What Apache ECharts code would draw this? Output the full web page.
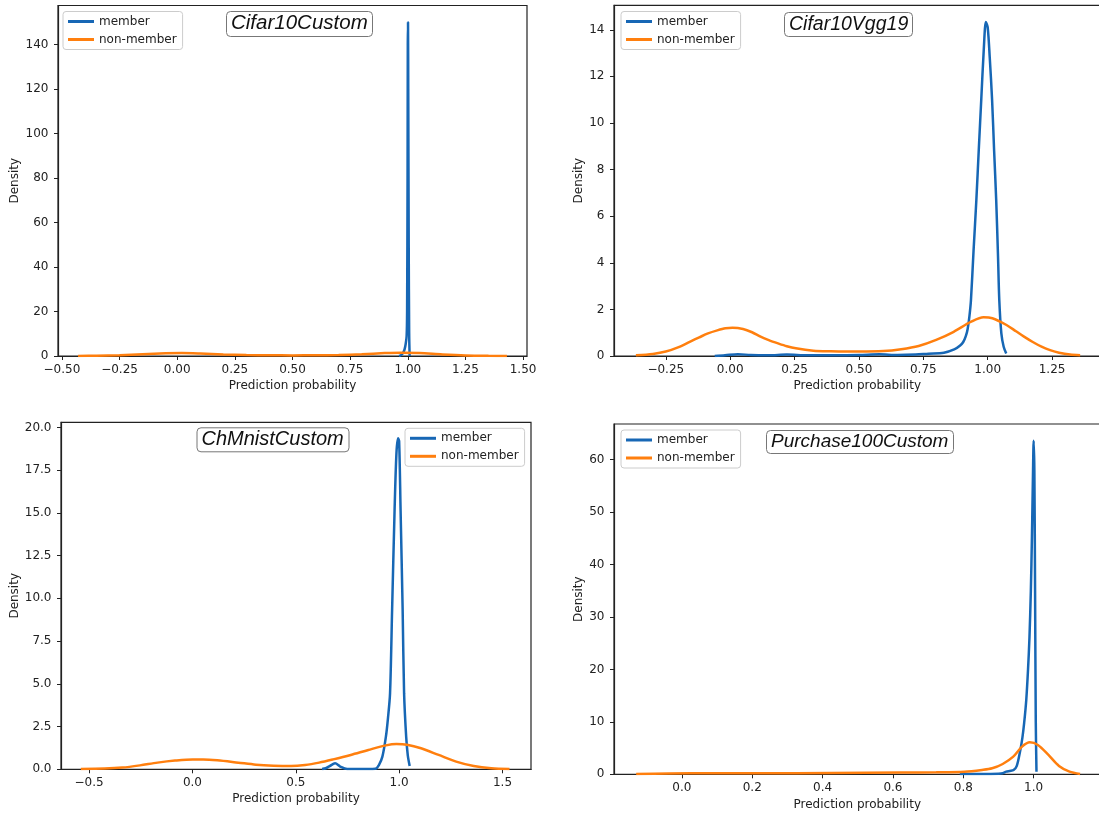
<!DOCTYPE html>
<html>
<head>
<meta charset="utf-8">
<script src="https://cdn.jsdelivr.net/npm/echarts@6/dist/echarts.min.js"></script>
<style>html,body{margin:0;padding:0;background:#fff}#c{width:1099px;height:816px}</style>
</head>
<body>
<div id="c"></div>
<script>
// ---- Panel titles & series names ----
const panelTitles = ['Cifar10Custom', 'Cifar10Vgg19', 'ChMnistCustom', 'Purchase100Custom'];
const seriesNames = ['member', 'non-member'];

// ---- Cifar10Custom ----
const c10cMemberX = [0.962, 0.972, 0.98, 0.986, 0.991, 0.995, 0.997, 0.999, 1.0, 1.001, 1.002, 1.004, 1.006, 1.008];
const c10cMemberY = [0, 0.5, 1.5, 3, 5.5, 9, 20, 80, 140, 150, 120, 50, 10, 0];
const c10cNonX = [-0.43, -0.35, -0.25, -0.15, -0.05, 0.02, 0.1, 0.2, 0.3, 0.4, 0.5, 0.6, 0.7, 0.8, 0.9, 0.97, 1.05, 1.15, 1.25, 1.35, 1.43];
const c10cNonY = [0.02, 0.1, 0.35, 0.8, 1.2, 1.3, 1.1, 0.7, 0.4, 0.3, 0.28, 0.3, 0.45, 0.8, 1.3, 1.5, 1.3, 0.7, 0.25, 0.06, 0.01];

// ---- Cifar10Vgg19 ----
const vggMemberX = [-0.06, -0.02, 0.03, 0.08, 0.15, 0.22, 0.3, 0.4, 0.5, 0.58, 0.65, 0.72, 0.77, 0.83, 0.87, 0.893, 0.905, 0.915, 0.922, 0.929, 0.935, 0.945, 0.956, 0.966, 0.975, 0.985, 0.993, 1.0, 1.008, 1.017, 1.025, 1.033, 1.04, 1.045, 1.053, 1.062, 1.072];
const vggMemberY = [0.0, 0.03, 0.08, 0.04, 0.03, 0.06, 0.03, 0.03, 0.04, 0.07, 0.04, 0.06, 0.1, 0.14, 0.28, 0.45, 0.6, 0.85, 1.15, 1.7, 2.4, 4.5, 6.7, 9.0, 11.0, 13.2, 14.33, 14.1, 12.8, 11.0, 8.8, 6.7, 4.3, 2.4, 0.97, 0.4, 0.11];
const vggNonX = [-0.366, -0.3, -0.25, -0.2, -0.155, -0.12, -0.086, -0.05, -0.018, 0.009, 0.05, 0.085, 0.118, 0.15, 0.186, 0.22, 0.255, 0.323, 0.391, 0.45, 0.5, 0.595, 0.664, 0.732, 0.8, 0.868, 0.936, 0.984, 1.018, 1.073, 1.11, 1.141, 1.175, 1.209, 1.245, 1.277, 1.32, 1.359];
const vggNonY = [0.03, 0.09, 0.19, 0.38, 0.62, 0.8, 0.97, 1.1, 1.19, 1.21, 1.16, 1.02, 0.83, 0.68, 0.54, 0.42, 0.33, 0.23, 0.2, 0.19, 0.19, 0.21, 0.29, 0.43, 0.69, 1.04, 1.47, 1.66, 1.62, 1.33, 1.06, 0.83, 0.6, 0.4, 0.24, 0.14, 0.06, 0.03];

// ---- ChMnistCustom ----
const chMemberX = [0.627, 0.645, 0.664, 0.69, 0.715, 0.749, 0.8, 0.85, 0.885, 0.902, 0.919, 0.936, 0.946, 0.956, 0.966, 0.978, 0.987, 0.995, 1.0, 1.007, 1.017, 1.024, 1.034, 1.042, 1.051];
const chMemberY = [0.02, 0.06, 0.19, 0.35, 0.16, 0.02, 0.02, 0.02, 0.03, 0.25, 0.74, 1.91, 3.0, 4.44, 9.32, 15.17, 18.5, 19.36, 19.2, 15.17, 9.32, 4.44, 1.91, 0.8, 0.2];
const chNonX = [-0.54, -0.424, -0.339, -0.254, -0.169, -0.084, 0.001, 0.052, 0.12, 0.222, 0.307, 0.392, 0.477, 0.545, 0.613, 0.681, 0.766, 0.851, 0.936, 0.987, 1.038, 1.106, 1.191, 1.276, 1.361, 1.446, 1.534];
const chNonY = [0.02, 0.04, 0.1, 0.23, 0.39, 0.51, 0.58, 0.58, 0.53, 0.39, 0.27, 0.21, 0.19, 0.25, 0.39, 0.58, 0.84, 1.13, 1.4, 1.48, 1.44, 1.23, 0.84, 0.45, 0.19, 0.06, 0.02];

// ---- Purchase100Custom ----
const puMemberX = [0.79, 0.85, 0.9, 0.912, 0.922, 0.932, 0.943, 0.952, 0.962, 0.968, 0.973, 0.979, 0.984, 0.988, 0.992, 0.995, 0.998, 1.0, 1.002, 1.004, 1.006, 1.008];
const puMemberY = [0.05, 0.06, 0.12, 0.2, 0.5, 0.64, 0.82, 1.6, 4.6, 7, 9.8, 14.2, 20, 26, 35, 45, 57, 63.6, 58, 35, 10, 0.5];
const puNonX = [-0.13, 0.025, 0.224, 0.424, 0.623, 0.723, 0.803, 0.853, 0.882, 0.912, 0.942, 0.967, 0.989, 1.012, 1.042, 1.072, 1.102, 1.132];
const puNonY = [0.06, 0.19, 0.19, 0.25, 0.32, 0.38, 0.5, 0.83, 1.14, 1.97, 3.37, 5.28, 6.1, 5.6, 3.7, 1.6, 0.5, 0.06];

// ---- Tick labels ----
const xTicks1 = [-0.5, -0.25, 0, 0.25, 0.5, 0.75, 1.0, 1.25, 1.5];
const yTicks1 = [0, 20, 40, 60, 80, 100, 120, 140];
const xTicks2 = [-0.25, 0, 0.25, 0.5, 0.75, 1.0, 1.25];
const yTicks2 = [0, 2, 4, 6, 8, 10, 12, 14];
const xTicks3 = [-0.5, 0, 0.5, 1.0, 1.5];
const yTicks3 = [0, 2.5, 5, 7.5, 10, 12.5, 15, 17.5, 20];
const xTicks4 = [0, 0.2, 0.4, 0.6, 0.8, 1.0];
const yTicks4 = [0, 10, 20, 30, 40, 50, 60];

const BLUE = '#1767b5', ORANGE = '#ff7f0e', INK = '#222';
const zip = (xs, ys) => xs.map((x, i) => [x, ys[i]]);
const fmt = d => v => (v < 0 ? '\u2212' : '') + Math.abs(v).toFixed(d);

const panels = [
  { title: panelTitles[0], grid: {left: 58, top: 5.5, width: 469, height: 350.5},
    x: {min: -0.517, max: 1.517, ticks: xTicks1, dec: 2, gap: 24}, y: {min: 0, max: 157.5, ticks: yTicks1, dec: 0, gap: 37},
    m: zip(c10cMemberX, c10cMemberY), n: zip(c10cNonX, c10cNonY),
    titleBox: {left: 226, top: 11, fs: 20.5}, legend: {left: 63, top: 11.5} },
  { title: panelTitles[1], grid: {left: 614, top: 5.3, width: 486.5, height: 350.7},
    x: {min: -0.451, max: 1.438, ticks: xTicks2, dec: 2, gap: 24}, y: {min: 0, max: 15.05, ticks: yTicks2, dec: 0, gap: 29},
    m: zip(vggMemberX, vggMemberY), n: zip(vggNonX, vggNonY),
    titleBox: {left: 784, top: 12, fs: 19.5}, legend: {left: 621, top: 11.5} },
  { title: panelTitles[2], grid: {left: 61, top: 422.3, width: 470, height: 347},
    x: {min: -0.636, max: 1.638, ticks: xTicks3, dec: 1, gap: 23.5}, y: {min: 0, max: 20.3, ticks: yTicks3, dec: 1, gap: 40},
    m: zip(chMemberX, chMemberY), n: zip(chNonX, chNonY),
    titleBox: {left: 196.5, top: 427.3, fs: 20}, legend: {left: 405, top: 428.3} },
  { title: panelTitles[3], grid: {left: 614, top: 424, width: 486.5, height: 350.3},
    x: {min: -0.193, max: 1.19, ticks: xTicks4, dec: 1, gap: 24.5}, y: {min: 0, max: 66.8, ticks: yTicks4, dec: 0, gap: 29},
    m: zip(puMemberX, puMemberY), n: zip(puNonX, puNonY),
    titleBox: {left: 766, top: 430, fs: 19}, legend: {left: 621, top: 430} }
];

const labelFont = {fontFamily: 'DejaVu Sans', fontSize: 12, color: INK};
const option = {
  animation: false,
  backgroundColor: '#fff',
  grid: [], xAxis: [], yAxis: [], series: [], title: [], legend: []
};

panels.forEach((p, i) => {
  option.grid.push(Object.assign({show: true, borderColor: INK, borderWidth: 1.2, backgroundColor: 'transparent', outerBoundsMode: 'none', containLabel: false}, p.grid));
  option.xAxis.push({
    type: 'value', gridIndex: i, min: p.x.min, max: p.x.max,
    name: 'Prediction probability', nameLocation: 'middle', nameGap: p.x.gap,
    nameTextStyle: Object.assign({}, labelFont),
    axisLine: {show: true, onZero: false, lineStyle: {color: INK, width: 1.2}},
    axisTick: {show: true, length: 4, customValues: p.x.ticks, lineStyle: {color: INK, width: 1}},
    axisLabel: Object.assign({customValues: p.x.ticks, margin: 7.5, formatter: fmt(p.x.dec)}, labelFont),
    splitLine: {show: false}
  });
  option.yAxis.push({
    type: 'value', gridIndex: i, min: p.y.min, max: p.y.max,
    name: 'Density', nameLocation: 'middle', nameGap: p.y.gap, nameRotate: 90,
    nameTextStyle: Object.assign({}, labelFont),
    axisLine: {show: true, onZero: false, lineStyle: {color: INK, width: 1.2}},
    axisTick: {show: true, length: 4, customValues: p.y.ticks, lineStyle: {color: INK, width: 1}},
    axisLabel: Object.assign({customValues: p.y.ticks, margin: 9.5, formatter: fmt(p.y.dec)}, labelFont),
    splitLine: {show: false}
  });
  [[seriesNames[0], p.m, BLUE], [seriesNames[1], p.n, ORANGE]].forEach(([nm, data, col]) => {
    option.series.push({
      type: 'line', name: nm, xAxisIndex: i, yAxisIndex: i, data: data,
      showSymbol: false, symbol: 'none', smooth: 0.3,
      lineStyle: {color: col, width: 2.5}, itemStyle: {color: col}, clip: true
    });
  });
  option.title.push({
    text: p.title, left: p.titleBox.left, top: p.titleBox.top,
    padding: [2, 5, 2, 5], borderColor: '#777', borderWidth: 1, borderRadius: 4, backgroundColor: '#fff',
    textStyle: {fontFamily: 'Liberation Sans', fontStyle: 'italic', fontWeight: 'normal', fontSize: p.titleBox.fs, color: '#111', lineHeight: p.titleBox.fs + 1}
  });
  option.legend.push({
    data: seriesNames, orient: 'vertical', left: p.legend.left, top: p.legend.top,
    icon: 'rect', itemWidth: 26, itemHeight: 3, itemGap: 4,
    padding: [3, 6, 3, 5], borderColor: '#ccc', borderWidth: 1, borderRadius: 3,
    backgroundColor: 'rgba(255,255,255,0.85)',
    textStyle: {fontFamily: 'DejaVu Sans', fontSize: 12, color: INK, lineHeight: 14},
    selectedMode: false
  });
});

const chart = echarts.init(document.getElementById('c'), null, {renderer: 'canvas'});
chart.setOption(option);
</script>
</body>
</html>
